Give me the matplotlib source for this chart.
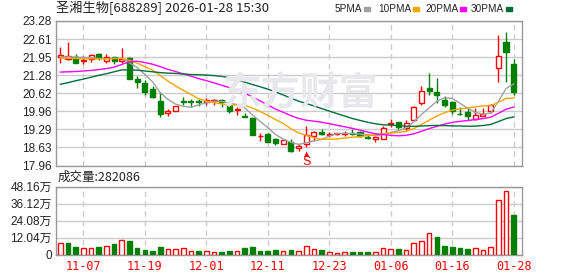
import matplotlib
matplotlib.use('Agg')
import matplotlib.pyplot as plt
from matplotlib.patches import Rectangle
import numpy as np
import pandas as pd

plt.rcParams['font.family'] = ['Liberation Sans', 'Noto Sans CJK SC', 'DejaVu Sans']

TITLE = '圣湘生物[688289] 2026-01-28 15:30'
VOLUME_TITLE = '成交量:282086'
HOLIDAYS = ['2026-01-01', '2026-01-02']
TICK_DATES = ['11-07', '11-19', '12-01', '12-11', '12-23', '01-06', '01-16', '01-28']
PRICE_TICKS = ['17.96', '18.63', '19.29', '19.96', '20.62', '21.28', '21.95', '22.61', '23.28']
VOLUME_TICKS = ['0', '12.04万', '24.08万', '36.12万', '48.16万']

opens = [21.97, 21.89, 21.94, 21.79, 21.87, 22.05, 21.80, 21.95, 21.80, 21.91,
         21.13, 20.99, 20.77, 20.34, 19.90, 19.96, 20.32, 20.33, 20.32, 20.30,
         20.33, 20.36, 20.17, 20.01, 19.80, 19.71, 19.03, 19.11, 18.92, 18.76,
         18.83, 18.59, 18.76, 19.03, 19.20, 19.09, 19.12, 19.13, 19.16, 19.20,
         19.00, 18.94, 18.93, 19.47, 19.57, 19.33, 19.64, 20.27, 20.82, 20.65,
         20.38, 20.29, 19.87, 19.94, 19.69, 19.80, 19.95, 21.54, 22.51, 21.70]
highs = [22.32, 22.49, 22.08, 22.00, 22.08, 22.10, 22.05, 21.97, 22.29, 21.97,
         21.24, 21.09, 20.89, 20.66, 20.05, 20.16, 20.48, 20.40, 20.40, 20.43,
         20.42, 20.41, 20.19, 20.11, 19.89, 19.74, 19.15, 19.15, 18.97, 18.89,
         18.93, 18.76, 19.41, 19.24, 19.31, 19.19, 19.16, 19.22, 19.29, 19.22,
         19.10, 19.04, 19.40, 19.69, 19.57, 19.64, 20.14, 20.89, 21.38, 21.19,
         20.51, 20.33, 20.12, 20.06, 20.09, 20.08, 20.23, 22.77, 22.86, 21.89]
lows = [21.75, 21.86, 21.72, 21.68, 21.76, 21.84, 21.72, 21.69, 21.73, 21.16,
        20.83, 20.55, 20.46, 19.76, 19.80, 19.95, 20.18, 20.13, 20.16, 20.19,
        20.19, 20.13, 19.91, 19.81, 19.73, 19.10, 18.88, 18.81, 18.73, 18.76,
        18.44, 18.48, 18.64, 18.88, 19.09, 19.00, 19.09, 19.06, 19.09, 19.02,
        18.92, 18.81, 18.93, 19.38, 19.30, 19.27, 19.62, 20.17, 20.57, 20.25,
        20.11, 19.85, 19.83, 19.64, 19.64, 19.79, 19.91, 21.05, 21.02, 20.56]
closes = [22.04, 22.00, 21.75, 21.83, 22.02, 21.90, 21.95, 21.81, 21.87, 21.16,
          21.03, 20.68, 20.49, 19.84, 19.95, 20.14, 20.28, 20.31, 20.29, 20.36,
          20.37, 20.28, 19.96, 20.05, 19.74, 19.10, 19.05, 18.84, 18.78, 18.89,
          18.50, 18.68, 19.10, 19.19, 19.11, 19.13, 19.14, 19.16, 19.13, 19.04,
          18.98, 19.00, 19.35, 19.51, 19.36, 19.52, 20.11, 20.71, 20.72, 20.57,
          20.17, 19.97, 19.84, 19.79, 19.81, 19.84, 20.17, 22.00, 22.14, 20.68]
# volume in 万
volumes = [7.99, 8.22, 5.40, 4.46, 4.46, 5.40, 5.87, 7.52, 10.10, 9.63,
           4.70, 3.29, 2.58, 5.40, 3.76, 3.76, 4.46, 2.35, 2.58, 2.35,
           1.64, 1.88, 2.58, 2.35, 4.70, 5.40, 2.58, 2.58, 3.29, 2.35,
           3.29, 2.35, 5.87, 3.76, 3.29, 1.64, 1.17, 1.64, 1.88, 1.88,
           1.88, 1.64, 4.46, 3.76, 3.99, 3.05, 7.99, 9.40, 15.03, 12.68,
           6.11, 5.40, 4.70, 3.99, 4.46, 3.05, 5.17, 38.29, 44.63, 28.21]

# moving average values before the window is full
ma_early = {
    5: [21.95, 21.96, 21.95, 21.94],
    10: [21.92, 21.91, 21.90, 21.89, 21.89, 21.89, 21.89, 21.90, 21.90],
    20: [21.40, 21.41, 21.42, 21.44, 21.46, 21.49, 21.53, 21.58, 21.68, 21.78,
         21.80, 21.75, 21.69, 21.60, 21.50, 21.42, 21.33, 21.25, 21.16],
    30: [20.95, 21.01, 21.08, 21.14, 21.21, 21.28, 21.34, 21.41, 21.48, 21.48,
         21.47, 21.44, 21.41, 21.38, 21.36, 21.35, 21.33, 21.31, 21.30, 21.29,
         21.27, 21.24, 21.19, 21.11, 21.03, 20.94, 20.86, 20.77, 20.67],
}
MA_COLORS = {5: '#a0a0a0', 10: '#f5a500', 20: '#ff00ff', 30: '#006e3a'}
signals = {32: 'S'}

RED = '#ff0000'
GREEN = '#008000'
GRID = '#cccccc'
FRAME = '#999999'

dates = pd.bdate_range('2025-11-04', '2026-01-28').drop(pd.to_datetime(HOLIDAYS))
labels = list(dates.strftime('%m-%d'))
x = np.arange(len(closes))
tick_pos = [labels.index(_) for _ in TICK_DATES]


def _style_axes(axis):
    for spine in axis.spines.values():
        spine.set_color(FRAME)
        spine.set_linewidth(1)
    axis.set_xlim(-0.56, len(closes) + 0.08)
    axis.set_xticks(tick_pos)
    axis.grid(axis='y', color=GRID, lw=1, ls='-')
    axis.grid(axis='x', color=GRID, lw=1, ls=(0, (4, 3)))
    axis.set_axisbelow(True)
    axis.tick_params(length=0, labelsize=8.5, colors='#222222', pad=3)


fig = plt.figure(figsize=(5.78, 2.76), dpi=100)
ax = fig.add_axes([56 / 578, 1 - 165.5 / 276, 466 / 578, 144.5 / 276])
axv = fig.add_axes([56 / 578, 1 - 254.7 / 276, 466 / 578, 68.2 / 276])

# candles
for i in x:
    up = closes[i] >= opens[i]
    col = RED if up else GREEN
    ax.vlines(i, lows[i], highs[i], color=col, lw=1, zorder=3)
    bottom = min(opens[i], closes[i])
    height = max(abs(closes[i] - opens[i]), 0.012)
    ax.add_patch(Rectangle((i - 0.33, bottom), 0.66, height,
                           facecolor='white' if up else col,
                           edgecolor=col, lw=1, zorder=4))

# moving averages
close_series = pd.Series(closes)
for n, col in MA_COLORS.items():
    ma = close_series.rolling(n).mean().to_numpy()
    ma[:n - 1] = ma_early[n]
    ax.plot(x, ma, color=col, lw=1, zorder=5)

for i, txt in signals.items():
    ax.annotate('▲', xy=(i, lows[i]), xytext=(0, -7), textcoords='offset pixels',
                ha='center', va='center', color=RED, fontsize=5,
                family=['DejaVu Sans'], zorder=6)
    ax.annotate(txt, xy=(i, lows[i]), xytext=(0, -15), textcoords='offset pixels',
                ha='center', va='center', color=RED, fontsize=9, zorder=6)

ax.set_ylim(17.96, 23.28)
ax.set_yticks([float(_) for _ in PRICE_TICKS])
ax.set_yticklabels(PRICE_TICKS)
ax.set_xticklabels([])
_style_axes(ax)

# watermark
fig.text(300 / 578, 1 - 94 / 276, '东方财富', ha='center', va='center',
         fontsize=28, fontweight='bold', color='#e8e8ec',
         family=['Noto Sans CJK SC'], zorder=0)

# volume
vol_up = [closes[0] >= opens[0]] + [closes[i] > closes[i - 1] for i in x[1:]]
axv.bar(x, volumes, width=0.6,
        color=['white' if u else GREEN for u in vol_up],
        edgecolor=[RED if u else GREEN for u in vol_up], lw=1, zorder=3)
axv.set_ylim(0, 48.16)
axv.set_yticks([0, 12.04, 24.08, 36.12, 48.16])
axv.set_yticklabels(VOLUME_TICKS)
_style_axes(axv)
axv.set_xticklabels(TICK_DATES)
axv.tick_params(axis='x', colors=RED, labelsize=8.5, pad=4)
for lab in axv.get_xticklabels():
    lab.set_family(['DejaVu Sans Mono'])

# header texts
fig.text(56 / 578, 1 - 8.5 / 276, TITLE, ha='left', va='center', fontsize=9.5,
         family=['Noto Sans CJK SC'], color='#222222')
fig.text(58 / 578, 1 - 177 / 276, VOLUME_TITLE, ha='left', va='center',
         fontsize=9, family=['Noto Sans CJK SC'], color='#222222')

# legend: colour swatch positions, text sits just left of each swatch
legend_swatch_x = [364, 413, 460, 505.5]
for (n, col), sx in zip(MA_COLORS.items(), legend_swatch_x):
    fig.text((sx - 1.5) / 578, 1 - 8.5 / 276, f'{n}PMA', ha='right', va='center',
             fontsize=7.2, family=['Liberation Sans'], color='#222222')
    fig.add_artist(Rectangle((sx / 578, 1 - 10.5 / 276),
                             6 / 578, 4 / 276, transform=fig.transFigure,
                             color=col))

fig.savefig('out.png', dpi=100)
